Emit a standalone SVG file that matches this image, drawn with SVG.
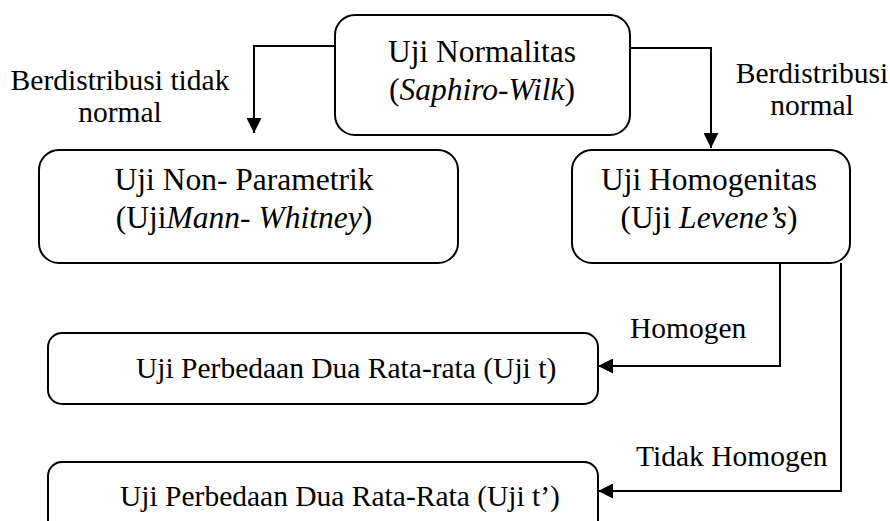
<svg xmlns="http://www.w3.org/2000/svg" width="890" height="521" viewBox="0 0 890 521">
<style>
.box{fill:#fff;stroke:#000;stroke-width:2}
.t{font-family:'Liberation Serif','DejaVu Serif',serif;fill:#000}
.b{font-size:31.5px;text-anchor:middle}
.s{font-size:29.5px}
.c{fill:none;stroke:#000;stroke-width:2}
</style>
<defs>
<marker id="ah" viewBox="0 0 10 10" refX="10" refY="5" markerWidth="7.5" markerHeight="7.5" orient="auto" markerUnits="strokeWidth">
<path d="M0,0 L10,5 L0,10 z" fill="#000"/>
</marker>
</defs>
<rect width="890" height="521" fill="#fff"/>
<g id="connectors">
<path class="c" d="M335,46 H254 V133" marker-end="url(#ah)"/>
<path class="c" d="M630,48 H711 V148" marker-end="url(#ah)"/>
<path class="c" d="M780,263 V366 H598" marker-end="url(#ah)"/>
<path class="c" d="M841,263 V491 H598" marker-end="url(#ah)"/>
</g>
<g id="lbl-tidak-normal" class="t s" text-anchor="middle">
<text x="120" y="90">Berdistribusi tidak</text>
<text x="120" y="122">normal</text>
</g>
<g id="lbl-normal" class="t s" text-anchor="middle">
<text x="812" y="83">Berdistribusi</text>
<text x="812" y="115">normal</text>
</g>
<g id="lbl-homogen" class="t s">
<text x="630" y="338">Homogen</text>
</g>
<g id="lbl-tidak-homogen" class="t s">
<text x="636" y="466">Tidak Homogen</text>
</g>
<g id="n-normalitas">
<rect class="box" x="335" y="15" width="295" height="120" rx="20"/>
<text class="t b" x="482" y="62">Uji Normalitas</text>
<text class="t b" x="482" y="100">(<tspan font-style="italic">Saphiro-Wilk</tspan>)</text>
</g>
<g id="n-nonparam">
<rect class="box" x="39" y="150" width="419" height="113" rx="20"/>
<text class="t b" x="244" y="190">Uji Non- Parametrik</text>
<text class="t b" x="244" y="228">(Uji<tspan font-style="italic">Mann- Whitney</tspan>)</text>
</g>
<g id="n-homogenitas">
<rect class="box" x="572" y="150" width="278" height="113" rx="20"/>
<text class="t b" x="709" y="190">Uji Homogenitas</text>
<text class="t b" x="709" y="228">(Uji <tspan font-style="italic">Levene’s</tspan>)</text>
</g>
<g id="n-ujit">
<rect class="box" x="48" y="333" width="550" height="71" rx="14"/>
<text class="t s" x="136" y="378">Uji Perbedaan Dua Rata-rata (Uji t)</text>
</g>
<g id="n-ujit2">
<rect class="box" x="48" y="462" width="550" height="80" rx="14"/>
<text class="t s" x="120" y="506">Uji Perbedaan Dua Rata-Rata (Uji t’)</text>
</g>
</svg>
